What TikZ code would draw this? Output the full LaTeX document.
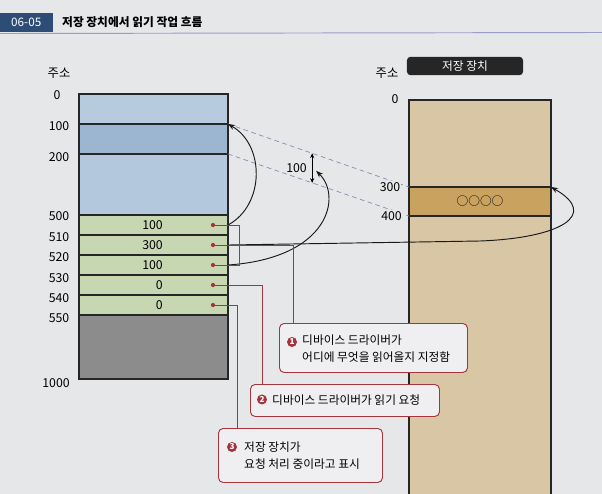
\documentclass[tikz,border=0pt]{standalone}
\usepackage{fontspec}
\setmainfont{Noto Sans CJK KR}
\usepackage{xcolor}
\usetikzlibrary{arrows.meta,positioning,calc}

\definecolor{pagebg}{HTML}{E6E7E9}
\definecolor{tabblue}{HTML}{2E4D76}
\definecolor{memtop}{HTML}{B7CBDF}
\definecolor{memsel}{HTML}{9CB6D2}
\definecolor{memmid}{HTML}{B3C8DD}
\definecolor{memgreen}{HTML}{C7D7B2}
\definecolor{memgray}{HTML}{8C8C8C}
\definecolor{sttan}{HTML}{D8C6A4}
\definecolor{stband}{HTML}{C9A25F}
\definecolor{callred}{HTML}{A5353C}
\definecolor{guidepurple}{HTML}{8C8AB4}

\begin{document}
\begin{tikzpicture}[
    x=0.03cm, y=-0.03cm,
    memrow/.style={rectangle, draw=black!85, line width=0.9pt, fill=memgreen, minimum width=4.47cm, minimum height=0.6cm, inner sep=0pt, outer sep=0pt},
    strow/.style={rectangle, draw=black!85, line width=0.9pt, fill=sttan, minimum width=4.26cm, inner sep=0pt, outer sep=0pt},
    addr/.style={font=\fontsize{10.5}{12}\selectfont, inner sep=1pt},
    val/.style={anchor=east, font=\fontsize{10.5}{12}\selectfont, inner sep=0pt},
    rdot/.style={circle, fill=callred, inner sep=0pt, minimum size=3.6pt},
    callout/.style={rectangle, draw=callred, thick, rounded corners=4pt, fill=white!35!pagebg, anchor=north west, inner sep=0pt},
    calltext/.style={anchor=west, align=left, inner sep=0pt, font=\fontsize{10}{14.5}\selectfont},
    numdot/.style={circle, fill=callred, text=white, inner sep=0pt, minimum size=0.3cm, font=\bfseries\fontsize{7}{7}\selectfont},
    redline/.style={draw=callred, semithick},
    curve/.style={-{Stealth[length=6pt,width=4.5pt]}, thick, draw=black!90},
    guide/.style={dash pattern=on 4pt off 3pt, draw=guidepurple, semithick},
    dimarrow/.style={{Stealth[length=4pt,width=3.5pt]}-{Stealth[length=4pt,width=3.5pt]}, semithick}
]
    \useasboundingbox[fill=pagebg] (0,0) rectangle (602,494);

    % title
    \node [fill=tabblue, text=white, anchor=east, minimum height=0.57cm, minimum width=1.59cm, inner xsep=0.33cm, align=right, font=\fontsize{10}{12}\selectfont] (tab) at (53,22.5) {\hfill 06-05};
    \node [right=0.27cm of tab, inner sep=0pt, font=\bfseries\fontsize{10}{12}\selectfont] (title) {저장 장치에서 읽기 작업 흐름};
    \draw [draw=gray!70!blue!60, thick] (0,33.5) -- (602,32.5);

    % memory
    \node [addr] (maddr) at (59,73) {주소};
    \node [memrow, fill=memtop, minimum height=0.9cm, anchor=north west] (m0) at (79,94) {};
    \node [memrow, fill=memsel, minimum height=0.9cm, below=0pt of m0] (m100) {};
    \node [memrow, fill=memmid, minimum height=1.83cm, below=0pt of m100] (m200) {};
    \node [memrow, below=0pt of m200] (m500) {};
    \node [memrow, below=0pt of m500] (m510) {};
    \node [memrow, below=0pt of m510] (m520) {};
    \node [memrow, below=0pt of m520] (m530) {};
    \node [memrow, below=0pt of m530] (m540) {};
    \node [memrow, fill=memgray, minimum height=1.92cm, below=0pt of m540] (m550) {};

    \node [addr] (a0) at (57,95) {0};
    \node [addr] (a100) at (59,126) {100};
    \node [addr] (a200) at (59,157) {200};
    \node [addr] (a500) at (59,216) {500};
    \node [addr] (a510) at (59,237) {510};
    \node [addr] (a520) at (59,257) {520};
    \node [addr] (a530) at (59,278) {530};
    \node [addr] (a540) at (59,298) {540};
    \node [addr] (a550) at (59,318) {550};
    \node [addr] (a1000) at (56,383) {1000};

    \node [val] (v500) at ($(m500.center)+(9.5,0)$) {100};
    \node [val] (v510) at ($(m510.center)+(9.5,0)$) {300};
    \node [val] (v520) at ($(m520.center)+(9.5,0)$) {100};
    \node [val] (v530) at ($(m530.center)+(9.5,0)$) {0};
    \node [val] (v540) at ($(m540.center)+(9.5,0)$) {0};

    \node [rdot] (d500) at ($(m500.east)+(-15,0)$) {};
    \node [rdot] (d510) at ($(m510.east)+(-15,0)$) {};
    \node [rdot] (d520) at ($(m520.east)+(-15,0)$) {};
    \node [rdot] (d530) at ($(m530.east)+(-15,0)$) {};
    \node [rdot] (d540) at ($(m540.east)+(-15,0)$) {};

    % storage
    \node [addr] (saddr) at (387,73) {주소};
    \node [fill=black!85, rounded corners=3pt, text=white, minimum width=3.48cm, minimum height=0.54cm, font=\fontsize{10}{12}\selectfont] (sthead) at (465,66) {저장 장치};
    \node [strow, minimum height=2.61cm, anchor=north west] (s0) at (409,100) {};
    \node [strow, fill=stband, minimum height=0.87cm, below=0pt of s0, font=\fontsize{10}{12}\selectfont] (s300) {○○○○};
    \node [strow, minimum height=8.6cm, below=0pt of s300] (s400) {};
    \node [addr] (s0lbl) at (395,99) {0};

    % mapping
    \draw [guide] (m100.north east) -- (s300.north west);
    \draw [guide] (m200.north east) -- (s300.south west);
    \node [addr, fill=pagebg] (s300lbl) at (390,187) {300};
    \node [addr, fill=pagebg] (s400lbl) at (391.5,216) {400};

    \coordinate (g1) at ($(m100.north east)!0.465!(s300.north west)$);
    \coordinate (g2) at ($(m200.north east)!0.465!(s300.south west)$);
    \draw [dimarrow] (g1) -- (g2);
    \node [addr, anchor=east] (gaplbl) at ($(g1)!0.5!(g2)+(-4,0)$) {100};
    \coordinate (gaptip) at ($(g2)+(4,-12)$);

    \draw [curve] (m500.east) .. controls (265,205) and (265,145) .. (m100.north east);
    \draw [curve] (m520.east) .. controls (330,258) and (342,196) .. (gaptip);
    \draw [curve] (m510.east) -- (480,241) .. controls (560,238) and (600,215) .. (s300.north east);

    % callouts
    \node [callout, minimum width=5.64cm, minimum height=1.47cm] (c1) at (279,323) {};
    \node [numdot] (n1) at ($(c1.north west)+(13,19)$) {1};
    \node [calltext] (t1) at ($(c1.west)+(23,1)$) {디바이스 드라이버가\\어디에 무엇을 읽어올지 지정함};

    \node [callout, minimum width=5.67cm, minimum height=0.96cm] (c2) at (250,384) {};
    \node [numdot] (n2) at ($(c2.west)+(12,-1)$) {2};
    \node [calltext] (t2) at ($(c2.west)+(22,0)$) {디바이스 드라이버가 읽기 요청};

    \node [callout, minimum width=4.92cm, minimum height=1.62cm] (c3) at (218,428) {};
    \node [numdot] (n3) at ($(c3.north west)+(14,19)$) {3};
    \node [calltext] (t3) at ($(c3.west)+(26,0)$) {저장 장치가\\요청 처리 중이라고 표시};

    \draw [redline] (d500.center) -- ++(26,0) |- (d520.center);
    \draw [redline] (d510.center) -| ($(c1.north west)+(14,0)$);
    \draw [redline] (d530.center) -| ($(c2.north west)+(12,0)$);
    \draw [redline] (d540.center) -| ($(c3.north west)+(19,0)$);
\end{tikzpicture}
\end{document}
